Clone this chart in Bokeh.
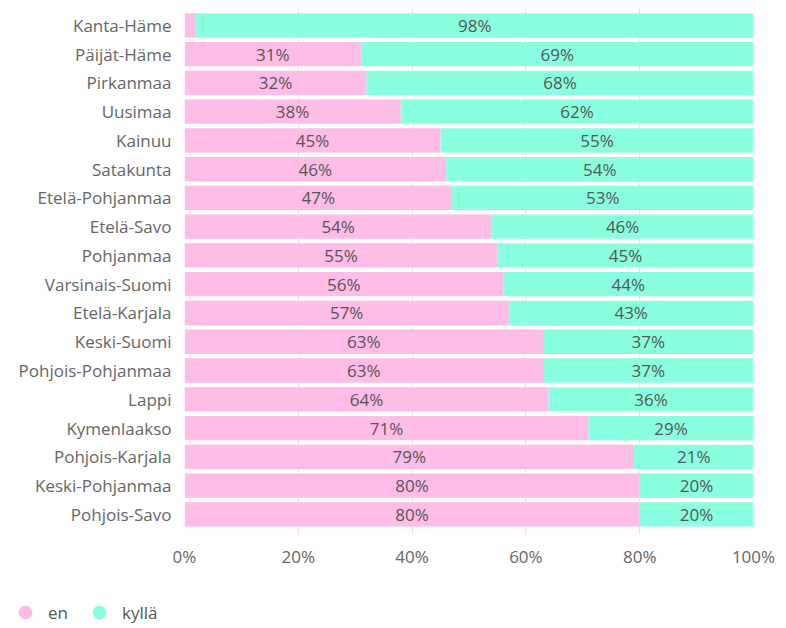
from bokeh.plotting import figure
from bokeh.layouts import column
from bokeh.models import ColumnDataSource, Range1d, Legend, LegendItem, PrintfTickFormatter, FixedTicker
from bokeh.core.properties import value
from bokeh.embed import file_html
from bokeh.resources import INLINE

regions = ["Kanta-Häme", "Päijät-Häme", "Pirkanmaa", "Uusimaa", "Kainuu", "Satakunta",
           "Etelä-Pohjanmaa", "Etelä-Savo", "Pohjanmaa", "Varsinais-Suomi", "Etelä-Karjala",
           "Keski-Suomi", "Pohjois-Pohjanmaa", "Lappi", "Kymenlaakso", "Pohjois-Karjala",
           "Keski-Pohjanmaa", "Pohjois-Savo"]
en = [2, 31, 32, 38, 45, 46, 47, 54, 55, 56, 57, 63, 63, 64, 71, 79, 80, 80]
kylla = [98, 69, 68, 62, 55, 54, 53, 46, 45, 44, 43, 37, 37, 36, 29, 21, 20, 20]
x_ticks = [0, 20, 40, 60, 80, 100]
series_names = ["en", "kyllä"]

PINK = "#ffbce6"
TEAL = "#8affdf"
FONT = "Open Sans"
FS = "17px"

n = len(regions)
ypos = [n - 1 - i for i in range(n)]  # first region on top

src = ColumnDataSource(dict(
    y=ypos, en=en, kylla=kylla,
    en_mid=[v / 2 for v in en],
    ky_mid=[a + b / 2 for a, b in zip(en, kylla)],
    en_lab=[f"{v}%" if v >= 5 else "" for v in en],
    ky_lab=[f"{v}%" if v >= 5 else "" for v in kylla],
))

p = figure(width=786, height=570, output_backend="svg", toolbar_location=None,
           y_range=Range1d(-0.70, n - 1 + 0.584), x_range=Range1d(0, 100),
           min_border_left=184, min_border_right=33,
           min_border_top=8, min_border_bottom=30)
p.frame_align = False
p.outline_line_color = None
p.background_fill_color = "white"

p.hbar_stack(["en", "kylla"], y="y", height=0.845, color=[PINK, TEAL],
             line_color=None, source=src)

p.text(x="en_mid", y="y", text="en_lab", source=src, text_align="center",
       text_baseline="middle", text_font=value(FONT), text_font_size=FS,
       text_color="#555555")
p.text(x="ky_mid", y="y", text="ky_lab", source=src, text_align="center",
       text_baseline="middle", text_font=value(FONT), text_font_size=FS,
       text_color="#555555")

p.xgrid.ticker = FixedTicker(ticks=x_ticks)
p.xaxis.ticker = FixedTicker(ticks=x_ticks)
p.yaxis.ticker = FixedTicker(ticks=ypos)
p.yaxis.major_label_overrides = {y: r for y, r in zip(ypos, regions)}
p.xgrid.grid_line_color = "#e6e6e6"
p.ygrid.grid_line_color = None
p.xaxis.formatter = PrintfTickFormatter(format="%d%%")
for ax in (p.xaxis, p.yaxis):
    ax.axis_line_color = None
    ax.major_tick_line_color = None
    ax.minor_tick_line_color = None
    ax.major_label_text_font = FONT
    ax.major_label_text_font_size = FS
    ax.major_label_text_color = "#666666"
p.yaxis.major_label_standoff = 7
p.xaxis.major_label_standoff = 4

# legend strip below the chart
lf = figure(width=786, height=58, output_backend="svg", toolbar_location=None,
            x_range=Range1d(0, 1), y_range=Range1d(0, 1),
            x_axis_location=None, y_axis_location=None,
            min_border_left=0, min_border_right=0, min_border_top=0, min_border_bottom=0)
lf.frame_align = False
lf.outline_line_color = None
lf.grid.visible = False
r_en = lf.scatter(x=[-10], y=[-10], marker="circle", size=13, color=PINK)
r_ky = lf.scatter(x=[-10], y=[-10], marker="circle", size=13, color=TEAL)
legend = Legend(items=[LegendItem(label=series_names[0], renderers=[r_en]),
                       LegendItem(label=series_names[1], renderers=[r_ky])],
                orientation="horizontal", location=(9, 0))
legend.label_text_font = FONT
legend.label_text_font_size = FS
legend.label_text_color = "#555555"
legend.border_line_color = None
legend.background_fill_alpha = 0
legend.glyph_width = 32
legend.glyph_height = 32
legend.spacing = 15
legend.label_standoff = 7
legend.margin = 0
legend.padding = 0
lf.add_layout(legend, "center")

open("out.html", "w").write(file_html(column(p, lf, spacing=0), INLINE))
